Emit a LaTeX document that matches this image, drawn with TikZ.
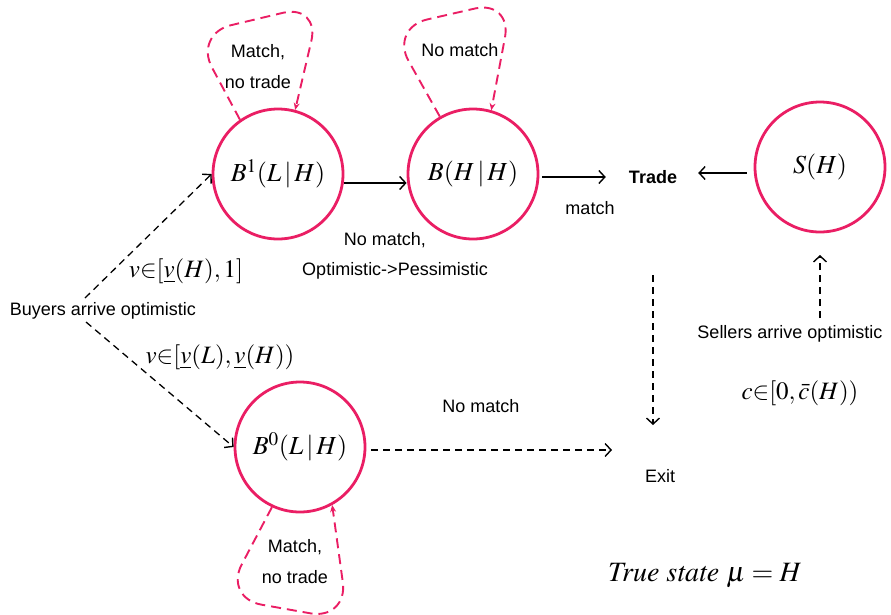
\documentclass[tikz,border=0pt]{standalone}
\usepackage{mathptmx}
\usepackage[no-math]{fontspec}
\setmainfont{Liberation Serif}
\setsansfont{Liberation Sans}
\usetikzlibrary{arrows.meta}
\definecolor{pk}{RGB}{234,30,100}
\begin{document}
\begin{tikzpicture}[x=1pt,y=-1pt,
  state/.style={circle, draw=pk, line width=2.8pt, minimum size=130pt, inner sep=0pt, font=\fontsize{26}{30}\selectfont},
  lbl/.style={font=\sffamily\fontsize{18}{21}\selectfont, inner sep=1pt},
  mlbl/.style={font=\fontsize{25}{30}\selectfont, inner sep=1pt},
  ar/.style={-{Straight Barb[length=6pt,width=13pt,line width=1.4pt]}, line width=1.3pt},
  dar/.style={ar, dash pattern=on 7pt off 5pt},
  lp/.style={draw=pk, line width=1.9pt, dash pattern=on 10pt off 6pt, rounded corners=38pt, -{Stealth[length=7pt,width=6pt]}}]
\useasboundingbox (0,0) rectangle (891,614);
\node[state] (b1) at (278,174) {$B^1(L\,|\,H)$};
\node[state] (bhh) at (473,174) {$B(H\,|\,H)$};
\node[state] (s) at (820,167) {$S(H)$};
\node[state] (b0) at (300,447) {$B^0(L\,|\,H)$};
\node[lbl, font=\sffamily\bfseries\fontsize{18}{21}\selectfont] (trade) at (653,177) {Trade};
\node[lbl] (exit) at (660,476) {Exit};
\node[lbl] (match) at (590,208) {match};
\node[lbl] (nm1) at (385,240) {No match,};
\node[lbl] (op) at (395,271) {Optimistic->Pessimistic};
\node[lbl] (nm2) at (481,406) {No match};
\node[lbl] (buyers) at (103,311) {Buyers arrive optimistic};
\node[lbl] (sellers) at (790,334) {Sellers arrive optimistic};
\node[mlbl] (vh) at (186,271) {$v{\in}[\underline{v}(H),1]$};
\node[mlbl] (vl) at (220,357) {$v{\in}[\underline{v}(L),\underline{v}(H))$};
\node[mlbl] (cc) at (800,393) {$c{\in}[0,\bar{c}(H))$};
\node[mlbl, font=\fontsize{28}{32}\selectfont] (ts) at (705,575) {$\mathit{True\ state}\ \mu=H$};
\node[lbl, align=center, font=\sffamily\fontsize{18}{31}\selectfont] (l1) at (258,67) {Match,\\no trade};
\node[lbl] (l2) at (460,50) {No match};
\node[lbl, align=center, font=\sffamily\fontsize{18}{31}\selectfont] (l3) at (295,562) {Match,\\no trade};
% solid arrows
\draw[ar] ([yshift=-9pt]b1.east) -- ([yshift=-9pt]bhh.west);
\draw[ar] ([yshift=-3pt,xshift=3pt]bhh.east) -- ([xshift=-22pt]trade.west);
\draw[ar] ([yshift=-6pt,xshift=-7pt]s.west) -- ([xshift=20pt,yshift=4pt]trade.east);
% dashed arrows
\coordinate (vtop) at (653,275);
\coordinate (vbot) at (653,425);
\coordinate (exin) at (612,450);
\coordinate (sup) at (820,318);
\coordinate (stip) at (820,255);
\coordinate (bu) at (85,298);
\coordinate (bd) at (86,322);
\draw[dar] (vtop) -- (vbot);
\draw[dar] ([xshift=5pt,yshift=-3pt]b0.east) -- (exin);
\draw[dar] (sup) -- (stip);
\draw[dar] (bu) -- (b1.west);
\draw[dar] (bd) -- (b0.west);
% loops
\draw[lp] (b1.125) -- (194,34) -- (320,4) -- (b1.75);
\draw[lp] (bhh.120) -- (390,28) -- (512,0) -- (bhh.74);
\draw[lp] (b0.245) -- (224,598) -- (348,620) -- (b0.-61);
\end{tikzpicture}
\end{document}
